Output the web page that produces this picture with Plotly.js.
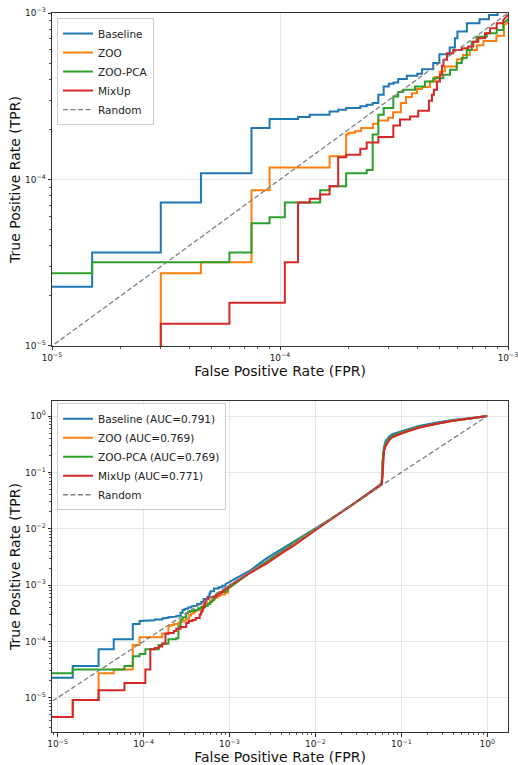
<!DOCTYPE html>
<html>
<head>
<meta charset="utf-8">
<script src="https://cdn.plot.ly/plotly-3.0.1.min.js"></script>
<style>html,body{margin:0;padding:0;background:#fff;}#chart{width:518px;height:765px;}</style>
</head>
<body>
<div id="chart"></div>
<script>
// ---------- data (FPR/TPR 0 is stood in by 1e-9 on the log scale) ----------
const seriesNames = ["Baseline", "ZOO", "ZOO-PCA", "MixUp"];
const seriesAUC = ["0.791", "0.769", "0.769", "0.771"];
const seriesColors = ["#1f77b4", "#ff7f0e", "#2ca02c", "#d62728"];

// tick labels
const topTickVals = [1e-5, 1e-4, 1e-3];
const topTickText = ["10<sup>−5</sup>", "10<sup>−4</sup>", "10<sup>−3</sup>"];
const bottomTickVals = [1e-5, 1e-4, 1e-3, 1e-2, 1e-1, 1];
const bottomTickText = ["10<sup>−5</sup>", "10<sup>−4</sup>", "10<sup>−3</sup>", "10<sup>−2</sup>", "10<sup>−1</sup>", "10<sup>0</sup>"];

// low-FPR staircase part: each point = (FPR where the TPR jumps, new TPR)
const baselineStepFPR = [1e-9, 1.5e-5, 3.0e-5, 4.5e-5, 7.5e-5, 9.0e-5, 1.2e-4, 1.35e-4, 1.65e-4, 1.8e-4, 1.95e-4, 2.25e-4, 2.4e-4, 2.55e-4, 2.7e-4, 2.85e-4, 3.0e-4, 3.15e-4, 3.3e-4, 3.6e-4, 4.0e-4, 4.2e-4, 4.7e-4, 5.0e-4, 5.55e-4, 5.85e-4, 6.0e-4, 6.6e-4, 7.5e-4, 8.25e-4, 9.0e-4];
const baselineStepTPR = [2.27e-5, 3.64e-5, 7.27e-5, 1.09e-4, 2.04e-4, 2.31e-4, 2.37e-4, 2.45e-4, 2.56e-4, 2.62e-4, 2.69e-4, 2.75e-4, 2.81e-4, 2.88e-4, 3.23e-4, 3.62e-4, 3.76e-4, 3.82e-4, 4.01e-4, 4.2e-4, 4.31e-4, 4.6e-4, 5.0e-4, 5.66e-4, 6.2e-4, 7.06e-4, 7.73e-4, 8.68e-4, 9.17e-4, 9.73e-4, 1.04e-3];

const zooStepFPR = [1e-9, 1.5e-5, 3.0e-5, 3.0e-5, 4.5e-5, 7.5e-5, 9.0e-5, 1.65e-4, 1.95e-4, 2.0e-4, 2.13e-4, 2.27e-4, 2.56e-4, 2.69e-4, 2.98e-4, 3.13e-4, 3.39e-4, 3.57e-4, 3.79e-4, 3.99e-4, 4.2e-4, 4.55e-4, 4.79e-4, 5.03e-4, 5.29e-4, 5.97e-4, 6.35e-4, 6.8e-4, 7.3e-4, 7.8e-4, 8.9e-4, 9.6e-4];
const zooStepTPR = [4.55e-6, 9.1e-6, 1.36e-5, 2.73e-5, 3.18e-5, 8.63e-5, 1.18e-4, 1.38e-4, 1.86e-4, 1.91e-4, 1.95e-4, 2.04e-4, 2.16e-4, 2.26e-4, 2.35e-4, 2.53e-4, 2.88e-4, 3.13e-4, 3.3e-4, 3.49e-4, 3.59e-4, 3.88e-4, 4.12e-4, 4.45e-4, 4.77e-4, 5.28e-4, 5.6e-4, 6.0e-4, 6.4e-4, 6.8e-4, 7.3e-4, 8.4e-4];

const zooPcaStepFPR = [1e-9, 1.5e-5, 6.0e-5, 7.5e-5, 9.0e-5, 1.05e-4, 1.5e-4, 1.65e-4, 1.95e-4, 2.4e-4, 2.55e-4, 2.7e-4, 2.85e-4, 3.14e-4, 3.3e-4, 3.47e-4, 3.91e-4, 4.32e-4, 4.7e-4, 5.2e-4, 5.57e-4, 5.96e-4, 6.27e-4, 6.59e-4, 6.93e-4, 7.29e-4, 8.07e-4, 8.92e-4, 9.53e-4];
const zooPcaStepTPR = [2.73e-5, 3.18e-5, 3.64e-5, 5.45e-5, 5.94e-5, 7.27e-5, 8.63e-5, 9.1e-5, 1.09e-4, 1.14e-4, 1.86e-4, 2.45e-4, 2.69e-4, 3.15e-4, 3.35e-4, 3.46e-4, 3.62e-4, 3.88e-4, 4.06e-4, 4.25e-4, 4.56e-4, 5.0e-4, 5.36e-4, 6.0e-4, 6.73e-4, 7.21e-4, 7.56e-4, 7.91e-4, 8.7e-4];

const mixupStepFPR = [1e-9, 1.5e-5, 3.0e-5, 6.0e-5, 1.05e-4, 1.2e-4, 1.35e-4, 1.5e-4, 1.65e-4, 1.8e-4, 1.95e-4, 2.25e-4, 2.4e-4, 2.7e-4, 3.14e-4, 3.36e-4, 3.72e-4, 4.04e-4, 4.5e-4, 4.64e-4, 4.73e-4, 4.88e-4, 5.03e-4, 5.13e-4, 5.21e-4, 5.4e-4, 5.75e-4, 6.27e-4, 6.69e-4, 7.04e-4, 7.41e-4, 7.93e-4, 8.34e-4, 8.92e-4, 9.53e-4];
const mixupStepTPR = [4.55e-6, 9.1e-6, 1.36e-5, 1.82e-5, 3.18e-5, 7.27e-5, 7.66e-5, 8.13e-5, 9.12e-5, 1.36e-4, 1.41e-4, 1.53e-4, 1.67e-4, 1.8e-4, 2.11e-4, 2.29e-4, 2.39e-4, 2.59e-4, 2.97e-4, 3.23e-4, 3.46e-4, 3.88e-4, 4.25e-4, 4.82e-4, 5.23e-4, 5.74e-4, 6.0e-4, 6.15e-4, 6.29e-4, 6.73e-4, 7.06e-4, 7.56e-4, 8.1e-4, 8.68e-4, 9.08e-4];

// high-FPR part (dense, drawn point to point)
const baselineTailFPR = [1.71e-3, 2.67e-3, 4.15e-3, 6.5e-3, 1.01e-2, 1.73e-2, 2.47e-2, 3.85e-2, 0.055, 0.0585, 0.0598, 0.0604, 0.061, 0.0625, 0.0657, 0.072, 0.0784, 0.102, 0.16, 0.25, 0.389, 0.608, 0.8, 1.0];
const baselineTailTPR = [1.78e-3, 2.95e-3, 4.45e-3, 7.0e-3, 1.03e-2, 1.7e-2, 2.45e-2, 3.9e-2, 0.0586, 0.064, 0.08, 0.15, 0.21, 0.28, 0.36, 0.43, 0.476, 0.545, 0.667, 0.762, 0.85, 0.911, 0.96, 1.0];

const zooTailFPR = [1.7e-3, 2.7e-3, 4.2e-3, 6.5e-3, 1.01e-2, 1.73e-2, 2.47e-2, 3.85e-2, 0.055, 0.059, 0.0602, 0.0607, 0.0615, 0.063, 0.0657, 0.072, 0.0784, 0.102, 0.16, 0.25, 0.389, 0.608, 0.8, 1.0];
const zooTailTPR = [1.65e-3, 2.6e-3, 4.0e-3, 6.5e-3, 1.0e-2, 1.68e-2, 2.44e-2, 3.88e-2, 0.057, 0.064, 0.09, 0.16, 0.22, 0.27, 0.32, 0.39, 0.44, 0.51, 0.635, 0.735, 0.83, 0.90, 0.955, 1.0];

const zooPcaTailFPR = [1.7e-3, 2.7e-3, 4.2e-3, 6.5e-3, 1.01e-2, 1.73e-2, 2.47e-2, 3.85e-2, 0.055, 0.059, 0.0602, 0.0607, 0.0615, 0.063, 0.0657, 0.072, 0.0784, 0.102, 0.16, 0.25, 0.389, 0.608, 0.8, 1.0];
const zooPcaTailTPR = [1.6e-3, 2.65e-3, 4.1e-3, 6.6e-3, 1.0e-2, 1.68e-2, 2.44e-2, 3.88e-2, 0.057, 0.064, 0.09, 0.16, 0.22, 0.27, 0.32, 0.39, 0.44, 0.51, 0.635, 0.735, 0.83, 0.90, 0.955, 1.0];

const mixupTailFPR = [1.0e-3, 1.7e-3, 2.7e-3, 4.2e-3, 5.6e-3, 1.01e-2, 1.73e-2, 2.47e-2, 3.85e-2, 0.055, 0.0595, 0.0605, 0.0612, 0.063, 0.0657, 0.072, 0.0784, 0.102, 0.16, 0.25, 0.389, 0.608, 0.8, 1.0];
const mixupTailTPR = [9.73e-4, 1.62e-3, 2.4e-3, 3.8e-3, 5.0e-3, 9.5e-3, 1.66e-2, 2.43e-2, 3.85e-2, 0.057, 0.064, 0.1, 0.17, 0.24, 0.296, 0.37, 0.42, 0.496, 0.62, 0.725, 0.82, 0.895, 0.95, 1.0];

const randomFPR = [1e-9, 1.0];
const randomTPR = [1e-9, 1.0];

// ---------- build traces ----------
const stepsFPR = [baselineStepFPR, zooStepFPR, zooPcaStepFPR, mixupStepFPR];
const stepsTPR = [baselineStepTPR, zooStepTPR, zooPcaStepTPR, mixupStepTPR];
const tailsFPR = [baselineTailFPR, zooTailFPR, zooPcaTailFPR, mixupTailFPR];
const tailsTPR = [baselineTailTPR, zooTailTPR, zooPcaTailTPR, mixupTailTPR];

function rocPath(sf, st, tf, tt) {
  const x = [sf[0]], y = [st[0]];
  for (let i = 1; i < sf.length; i++) {
    x.push(sf[i], sf[i]);
    y.push(st[i - 1], st[i]);
  }
  return { x: x.concat(tf), y: y.concat(tt) };
}

const FONT = "DejaVu Sans, Arial, sans-serif";
const traces = [];
[["x", "y", "legend", false], ["x2", "y2", "legend2", true]].forEach(([xa, ya, lg, withAuc]) => {
  for (let i = 0; i < seriesNames.length; i++) {
    const p = rocPath(stepsFPR[i], stepsTPR[i], tailsFPR[i], tailsTPR[i]);
    traces.push({
      type: "scatter", mode: "lines", x: p.x, y: p.y, xaxis: xa, yaxis: ya, legend: lg,
      name: withAuc ? seriesNames[i] + " (AUC=" + seriesAUC[i] + ")" : seriesNames[i],
      line: { color: seriesColors[i], width: 2 }, hoverinfo: "skip"
    });
  }
  traces.push({
    type: "scatter", mode: "lines", x: randomFPR, y: randomTPR, xaxis: xa, yaxis: ya, legend: lg,
    name: "Random", line: { color: "#808080", width: 1.3, dash: "5px,2.5px" }, hoverinfo: "skip"
  });
});

function logAxis(range, vals, text, extra) {
  return Object.assign({
    type: "log", range: range, tickmode: "array", tickvals: vals, ticktext: text,
    showline: true, mirror: true, linecolor: "#333", linewidth: 1,
    ticks: "outside", ticklen: 3.5, tickwidth: 1, tickcolor: "#333",
    tickfont: { family: FONT, size: 9, color: "#222" }, ticklabeloverflow: "allow",
    showgrid: true, gridcolor: "#e6e6e6", gridwidth: 1, zeroline: false,
    minor: { dtick: "D1", ticks: "outside", ticklen: 2, tickwidth: 0.8, tickcolor: "#333", showgrid: false },
    automargin: false
  }, extra);
}
const titleFont = { family: FONT, size: 14, color: "#111" };
const legendBase = {
  xanchor: "left", yanchor: "top", bgcolor: "rgba(255,255,255,0.85)",
  bordercolor: "#cccccc", borderwidth: 1, font: { family: FONT, size: 10.5, color: "#222" },
  tracegroupgap: 0, itemwidth: 30
};

const layout = {
  width: 518, height: 765,
  margin: { l: 52, r: 10, t: 13, b: 33 },
  paper_bgcolor: "#ffffff", plot_bgcolor: "#ffffff",
  font: { family: FONT },
  showlegend: true,
  xaxis: logAxis([-5, -3], topTickVals, topTickText, { domain: [0, 1], anchor: "y", title: { text: "False Positive Rate (FPR)", font: titleFont, standoff: 0 } }),
  yaxis: logAxis([-5, -3], topTickVals, topTickText, { domain: [0.5369, 1], anchor: "x", title: { text: "True Positive Rate (TPR)", font: titleFont, standoff: 1 } }),
  xaxis2: logAxis([-5.065, 0.241], bottomTickVals, bottomTickText, { domain: [0, 1], anchor: "y2", title: { text: "False Positive Rate (FPR)", font: titleFont, standoff: 0 } }),
  yaxis2: logAxis([-5.609, 0.267], bottomTickVals, bottomTickText, { domain: [0, 0.4603], anchor: "x2", title: { text: "True Positive Rate (TPR)", font: titleFont, standoff: 1 } }),
  legend: Object.assign({ x: 0.011, y: 0.993 }, legendBase),
  legend2: Object.assign({ x: 0.011, y: 0.4572 }, legendBase)
};

Plotly.newPlot("chart", traces, layout, { displayModeBar: false, staticPlot: true });
</script>
</body>
</html>
